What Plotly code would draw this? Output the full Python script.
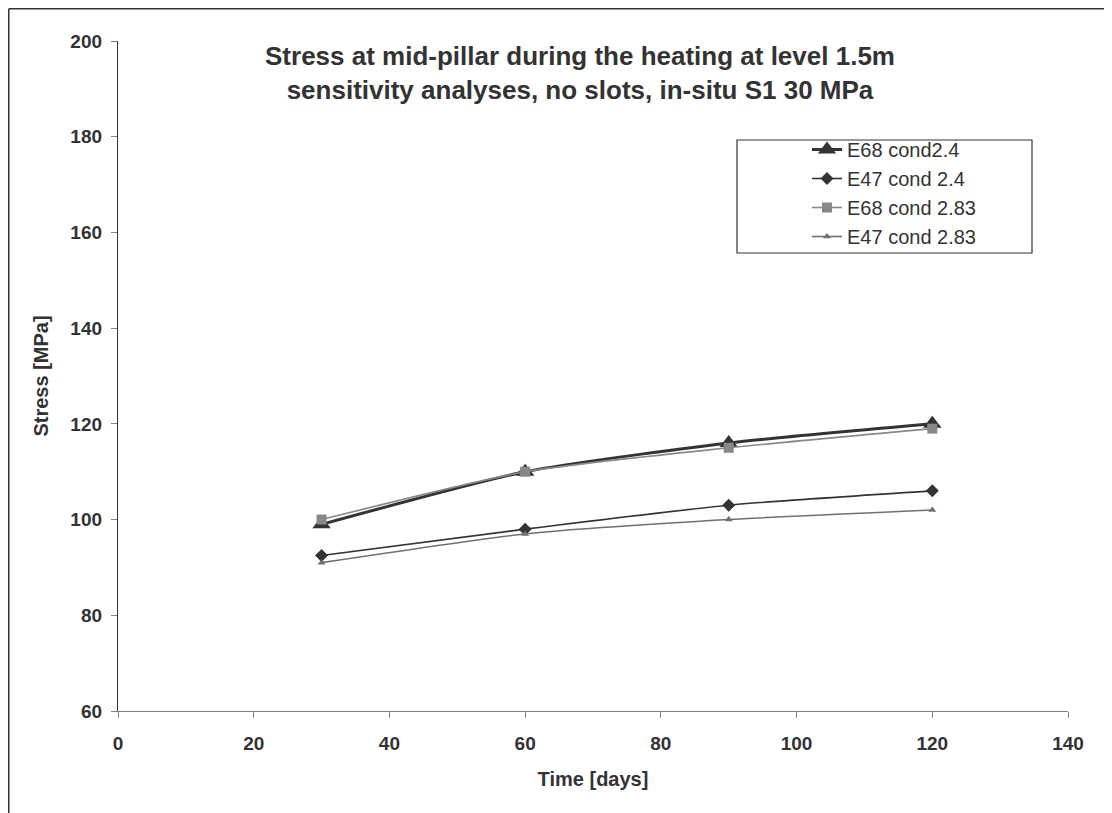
import plotly.graph_objects as go

time_days = [30, 60, 90, 120]
e68_cond24 = [99, 110, 116, 120]
e47_cond24 = [92.5, 98, 103, 106]
e68_cond283 = [100, 110, 115, 119]
e47_cond283 = [91, 97, 100, 102]

x_ticks = [0, 20, 40, 60, 80, 100, 120, 140]
y_ticks = [60, 80, 100, 120, 140, 160, 180, 200]

FONT = "Arial, Liberation Sans, sans-serif"
TXT = "#333333"

fig = go.Figure()
fig.add_trace(go.Scatter(x=time_days, y=e68_cond24, name="E68 cond2.4", mode="lines+markers",
                         line=dict(color="#333333", width=3, shape="spline", smoothing=0.6),
                         marker=dict(symbol="triangle-up", size=16, color="#333333")))
fig.add_trace(go.Scatter(x=time_days, y=e47_cond24, name="E47 cond 2.4", mode="lines+markers",
                         line=dict(color="#333333", width=1.6, shape="spline", smoothing=0.6),
                         marker=dict(symbol="diamond", size=10, color="#333333")))
fig.add_trace(go.Scatter(x=time_days, y=e68_cond283, name="E68 cond 2.83", mode="lines+markers",
                         line=dict(color="#888888", width=1.6, shape="spline", smoothing=0.6),
                         marker=dict(symbol="square", size=10, color="#888888")))
fig.add_trace(go.Scatter(x=time_days, y=e47_cond283, name="E47 cond 2.83", mode="lines+markers",
                         line=dict(color="#707070", width=1.6, shape="spline", smoothing=0.6),
                         marker=dict(symbol="triangle-up", size=7, color="#707070")))

# the page body adds an 8px offset; figure coordinates = screen - 8
OFF = 8
W, H = 1112 - OFF, 813 - OFF
L, R, T, B = 118 - OFF, 44, 41 - OFF, 102
pw, ph = W - L - R, H - T - B


def px(x):
    return (x - OFF - L) / pw


def py(y):
    return (H - B - (y - OFF)) / ph


fig.update_layout(
    width=W, height=H,
    margin=dict(l=L, r=R, t=T, b=B),
    paper_bgcolor="white", plot_bgcolor="white",
    font=dict(family=FONT, color=TXT),
    title=dict(text="Stress at mid-pillar during the heating at level 1.5m<br>sensitivity analyses, no slots, in-situ S1 30 MPa",
               x=px(580), xref="paper", xanchor="center", y=1 - 57 / H, yanchor="top",
               font=dict(size=26, family=FONT, color=TXT, weight="bold")),
    showlegend=True,
    legend=dict(x=px(807), y=py(130), xanchor="left", yanchor="top",
                bgcolor="rgba(0,0,0,0)", borderwidth=0,
                font=dict(size=20, family=FONT, color=TXT), tracegroupgap=0),
    xaxis=dict(range=[0, 140], tickvals=x_ticks, ticks="outside", ticklen=6, tickcolor="#808080",
               showline=True, linecolor="#808080", linewidth=1.3, showgrid=False, zeroline=False,
               tickfont=dict(size=19, family=FONT, color=TXT, weight="bold"), ticklabelstandoff=9,
               title=dict(text="Time [days]", font=dict(size=20, family=FONT, color=TXT, weight="bold"),
                          standoff=19)),
    yaxis=dict(range=[60, 200], tickvals=y_ticks, ticks="outside", ticklen=6, tickcolor="#808080",
               showline=True, linecolor="#333333", linewidth=1.3, showgrid=False, zeroline=False,
               tickfont=dict(size=19, family=FONT, color=TXT, weight="bold"), ticklabelstandoff=5,
               title=dict(text="Stress [MPa]", font=dict(size=20, family=FONT, color=TXT, weight="bold"),
                          standoff=16)),
    shapes=[
        dict(type="line", xref="paper", yref="paper", x0=px(8.75), x1=px(1112), y0=py(8.75), y1=py(8.75),
             line=dict(color="#333333", width=1.5)),
        dict(type="line", xref="paper", yref="paper", x0=px(8.75), x1=px(8.75), y0=py(8.75), y1=py(813),
             line=dict(color="#333333", width=1.5)),
        dict(type="rect", xref="paper", yref="paper", x0=px(737), x1=px(1032), y0=py(140), y1=py(253),
             line=dict(color="#333333", width=1.2)),
    ],
)

fig.write_html("out.html")
